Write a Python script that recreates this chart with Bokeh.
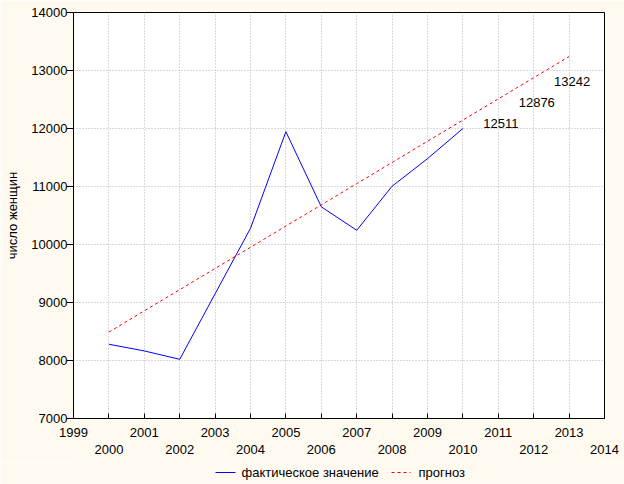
from bokeh.plotting import figure
from bokeh.layouts import column
from bokeh.models import LinearAxis, FixedTicker, ColumnDataSource, Range1d
from bokeh.embed import file_html
from bokeh.resources import INLINE
from bokeh.core.properties import value

# ---- data ----
years_actual = [2000, 2001, 2002, 2003, 2004, 2005, 2006, 2007, 2008, 2009, 2010]
actual = [8280, 8165, 8020, 9150, 10280, 11945, 10650, 10245, 11005, 11480, 12000]
years_forecast = [2000, 2001, 2002, 2003, 2004, 2005, 2006, 2007, 2008, 2009, 2010, 2011, 2012, 2013]
forecast = [8490, 8856, 9221, 9587, 9952, 10318, 10683, 11049, 11414, 11780, 12145, 12511, 12876, 13242]
label_years = [2011, 2012, 2013]
label_values = [12511, 12876, 13242]
label_texts = ["12511", "12876", "13242"]
x_ticks = list(range(1999, 2015))
x_ticks_odd = [y for y in x_ticks if y % 2 == 1]
x_ticks_even = [y for y in x_ticks if y % 2 == 0]
y_ticks = [7000, 8000, 9000, 10000, 11000, 12000, 13000, 14000]
y_title = "число женщин"
series_names = ["фактическое значение", "прогноз"]

FONT = "Liberation Sans"
TXT = "#000000"
BG = "#FFFAF0"
BLUE = "#0000FF"
RED = "#FF0000"
W = 624
BL = 73   # left border (px)
BR = 20   # right border (px)

p = figure(width=W, height=462, output_backend="svg", toolbar_location=None,
           x_range=Range1d(1999, 2014), y_range=Range1d(7000, 14000))
p.min_border_left = BL
p.min_border_right = BR
p.min_border_top = 12
p.min_border_bottom = 44
p.background_fill_color = "white"
p.border_fill_color = BG
p.outline_line_color = "black"
p.outline_line_width = 1

# grids
p.xgrid.ticker = FixedTicker(ticks=x_ticks)
p.ygrid.ticker = FixedTicker(ticks=y_ticks)
for g in (p.xgrid, p.ygrid):
    g.grid_line_color = "#B4B4B4"
    g.grid_line_dash = "1 2"
    g.grid_line_width = 1

# y axis
ya = p.yaxis[0]
ya.ticker = FixedTicker(ticks=y_ticks)
ya.axis_label = y_title
ya.axis_label_text_font = FONT
ya.axis_label_text_font_style = "normal"
ya.axis_label_text_font_size = "13px"
ya.axis_label_text_color = TXT
ya.axis_label_standoff = 8
ya.major_label_text_font = FONT
ya.major_label_text_font_size = "13px"
ya.major_label_text_color = TXT
ya.major_tick_out = 7
ya.major_tick_in = 0
ya.minor_tick_out = 0
ya.minor_tick_in = 0
ya.major_label_standoff = -1
ya.axis_line_color = "black"
ya.major_tick_line_color = "black"

# x axis 1: ticks at every year, labels at odd years
xa = p.xaxis[0]
xa.ticker = FixedTicker(ticks=x_ticks)
xa.major_label_overrides = {y: "" for y in x_ticks_even}
xa.major_label_text_font = FONT
xa.major_label_text_font_size = "13px"
xa.major_label_text_color = TXT
xa.major_tick_in = 5
xa.major_tick_out = 0
xa.minor_tick_in = 0
xa.minor_tick_out = 0
xa.major_label_standoff = 9
xa.axis_line_color = "black"
xa.major_tick_line_color = "black"

# x axis 2: labels at even years (second row)
xa2 = LinearAxis(ticker=FixedTicker(ticks=x_ticks_even))
xa2.major_label_text_font = FONT
xa2.major_label_text_font_size = "13px"
xa2.major_label_text_color = TXT
xa2.axis_line_color = None
xa2.major_tick_line_color = None
xa2.minor_tick_line_color = None
xa2.major_tick_in = 0
xa2.major_tick_out = 0
xa2.major_label_standoff = 5
p.add_layout(xa2, "below")

# lines
p.line(years_actual, actual, line_color=BLUE, line_width=1)
p.line(years_forecast, forecast, line_color=RED, line_width=1, line_dash="3 3")

# value labels
src = ColumnDataSource(dict(x=label_years, y=label_values, t=label_texts))
p.text(x="x", y="y", text="t", source=src, x_offset=-15, y_offset=25,
       text_font=value(FONT), text_font_size="13px", text_color=TXT,
       text_align="left", text_baseline="middle")

# ---- legend strip below the chart (its frame is aligned with the chart's,
#      so give it the same borders and a range in page pixels) ----
LG_H = 22
lg = figure(width=W, height=LG_H, output_backend="svg", toolbar_location=None,
            x_axis_location=None, y_axis_location=None,
            x_range=Range1d(BL, W - BR), y_range=Range1d(0, LG_H))
lg.min_border_left = BL
lg.min_border_right = BR
lg.min_border_top = 0
lg.min_border_bottom = 0
lg.outline_line_color = None
lg.background_fill_color = BG
lg.border_fill_color = BG
lg.grid.visible = False

# legend layout (style positions, px)
sw_x0 = [215, 391]
sw_x1 = [235, 410]
lab_x = [241, 418]
row_y = 12
lg.segment(x0=[sw_x0[0]], y0=[row_y], x1=[sw_x1[0]], y1=[row_y], line_color=BLUE, line_width=1)
lg.segment(x0=[sw_x0[1]], y0=[row_y], x1=[sw_x1[1]], y1=[row_y], line_color=RED, line_width=1,
           line_dash="3 3")
lg.text(x=lab_x, y=[row_y, row_y], text=series_names,
        text_font=value(FONT), text_font_size="13px", text_color=TXT,
        text_align="left", text_baseline="middle")

layout = column(p, lg, spacing=0)
open("out.html", "w").write(file_html(layout, INLINE))
